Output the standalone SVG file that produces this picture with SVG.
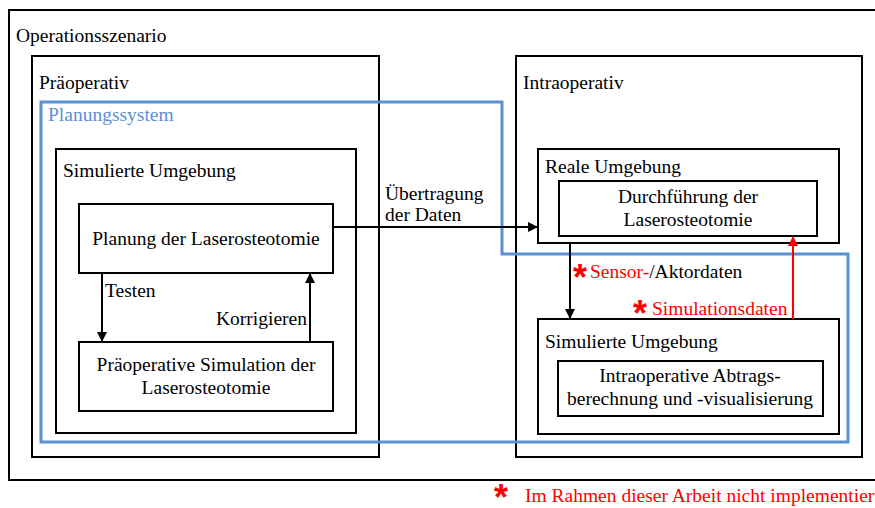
<svg xmlns="http://www.w3.org/2000/svg" width="875" height="508" viewBox="0 0 875 508">
  <defs>
    <marker id="arrowBlack" markerWidth="10" markerHeight="10" refX="9" refY="5" orient="auto" markerUnits="userSpaceOnUse">
      <path d="M0,0 L10,5 L0,10 Z" fill="#000"/>
    </marker>
    <marker id="arrowRed" markerWidth="10" markerHeight="10" refX="9" refY="5" orient="auto" markerUnits="userSpaceOnUse">
      <path d="M0,0 L10,5 L0,10 Z" fill="#ff0000"/>
    </marker>
  </defs>
  <style>
    .box { fill: none; stroke: #000; stroke-width: 2; }
    .sys { fill: none; stroke: #5b8fd6; stroke-width: 3; }
    .t { font-family: "Liberation Serif", "Times New Roman", serif; font-size: 19.5px; fill: #000; }
    .c { text-anchor: middle; }
    .red { fill: #ff0000; }
    .blue { fill: #5b8fd6; }
    .star { font-family: "Liberation Sans", Arial, sans-serif; font-weight: bold; font-size: 36px; fill: #ff0000; text-anchor: middle; }
    .line { fill: none; stroke: #000; stroke-width: 2; }
    .lineRed { fill: none; stroke: #ff0000; stroke-width: 2; }
  </style>
  <rect width="875" height="508" fill="#fff"/>

  <g id="operationsszenario">
    <rect class="box" x="9" y="10" width="880" height="470"/>
    <text class="t" x="16" y="42">Operationsszenario</text>
  </g>

  <g id="praeoperativ">
    <rect class="box" x="32" y="56" width="347" height="401"/>
    <text class="t" x="39" y="89">Präoperativ</text>
  </g>

  <g id="intraoperativ">
    <rect class="box" x="516" y="56" width="346" height="401"/>
    <text class="t" x="523" y="89">Intraoperativ</text>
  </g>

  <g id="sim-umgebung-prae">
    <rect class="box" x="56" y="149" width="300" height="284"/>
    <text class="t" x="63" y="177">Simulierte Umgebung</text>
  </g>

  <g id="planung">
    <rect class="box" x="79" y="204" width="254" height="69"/>
    <text class="t c" x="206" y="245">Planung der Laserosteotomie</text>
  </g>

  <g id="praeop-simulation">
    <rect class="box" x="79" y="342" width="254" height="69"/>
    <text class="t c" x="206" y="371">Präoperative Simulation der</text>
    <text class="t c" x="206" y="394">Laserosteotomie</text>
  </g>

  <g id="reale-umgebung">
    <rect class="box" x="538" y="149" width="301" height="94"/>
    <text class="t" x="545" y="173">Reale Umgebung</text>
  </g>

  <g id="durchfuehrung">
    <rect class="box" x="559" y="181" width="258" height="55"/>
    <text class="t c" x="688" y="203">Durchführung der</text>
    <text class="t c" x="688" y="226">Laserosteotomie</text>
  </g>

  <g id="sim-umgebung-intra">
    <rect class="box" x="538" y="319" width="301" height="115"/>
    <text class="t" x="545" y="348">Simulierte Umgebung</text>
  </g>

  <g id="abtragsberechnung">
    <rect class="box" x="558" y="361" width="265" height="55"/>
    <text class="t c" x="690" y="382">Intraoperative Abtrags-</text>
    <text class="t c" x="690" y="405">berechnung und -visualisierung</text>
  </g>

  <g id="planungssystem">
    <path class="sys" d="M41,102 H502 V254 H848 V442 H41 Z"/>
    <text class="t blue" x="48" y="121">Planungssystem</text>
  </g>

  <g id="connectors">
    <path class="line" d="M333,227 H537" marker-end="url(#arrowBlack)"/>
    <path class="line" d="M102,273 V341" marker-end="url(#arrowBlack)"/>
    <path class="line" d="M310,342 V274" marker-end="url(#arrowBlack)"/>
    <path class="line" d="M570,243 V318" marker-end="url(#arrowBlack)"/>
    <path class="lineRed" d="M793,319 V237" marker-end="url(#arrowRed)"/>
    <text class="t" x="385" y="200">Übertragung</text>
    <text class="t" x="385" y="221">der Daten</text>
    <text class="t" x="105" y="297">Testen</text>
    <text class="t" x="307" y="325" text-anchor="end">Korrigieren</text>
    <text class="star" x="580" y="290">*</text>
    <text class="t" x="590" y="278"><tspan class="red">Sensor-</tspan>/Aktordaten</text>
    <text class="star" x="640" y="326">*</text>
    <text class="t red" x="652" y="315">Simulationsdaten</text>
  </g>

  <g id="legende">
    <text class="star" x="501" y="510">*</text>
    <text class="t red" x="525" y="502">Im Rahmen dieser Arbeit nicht implementiert</text>
  </g>
</svg>
